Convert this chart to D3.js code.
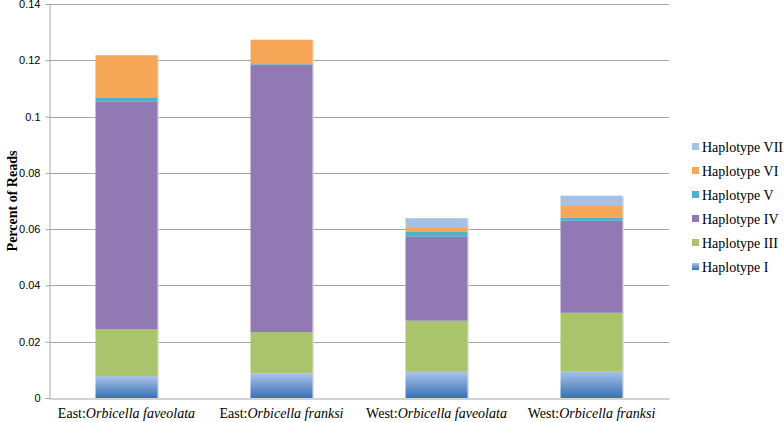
<!DOCTYPE html>
<html>
<head>
<meta charset="utf-8">
<script src="https://cdn.jsdelivr.net/npm/d3@7"></script>
<style>
  html, body { margin: 0; padding: 0; background: #fff; }
  svg { display: block; }
</style>
</head>
<body>
<svg id="chart" width="784" height="422"></svg>
<script>
// ---- data ----
const categoryRegions = ["East:", "East:", "West:", "West:"];
const categorySpecies = ["Orbicella faveolata", "Orbicella franksi", "Orbicella faveolata", "Orbicella franksi"];
const seriesNames = ["Haplotype I", "Haplotype III", "Haplotype IV", "Haplotype V", "Haplotype VI", "Haplotype VII"];
const hapI   = [0.0078, 0.0088, 0.0093, 0.0096];
const hapIII = [0.0167, 0.0146, 0.0182, 0.0207];
const hapIV  = [0.0808, 0.0949, 0.0298, 0.0327];
const hapV   = [0.0015, 0.0003, 0.0017, 0.0010];
const hapVI  = [0.0150, 0.0087, 0.0017, 0.0042];
const hapVII = [0.0000, 0.0000, 0.0032, 0.0037];
const yTicks = [0, 0.02, 0.04, 0.06, 0.08, 0.1, 0.12, 0.14];
const yTickLabels = ["0", "0.02", "0.04", "0.06", "0.08", "0.1", "0.12", "0.14"];
const yTitle = "Percent of Reads";

const seriesValues = [hapI, hapIII, hapIV, hapV, hapVI, hapVII];
const colors = ["url(#gradI)", "#aac46c", "#917ab4", "#4db1c8", "#f6a657", "#a6c1e6"];
const legendColors = ["url(#gradI)", "#aac46c", "#917ab4", "#4db1c8", "#f6a657", "#a6c1e6"];
const serif = "'Liberation Serif', 'Times New Roman', serif";
const sans = "'Liberation Sans', Arial, sans-serif";

const svg = d3.select("#chart");
const defs = svg.append("defs");
const g1 = defs.append("linearGradient").attr("id", "gradI")
  .attr("x1", 0).attr("y1", 0).attr("x2", 0).attr("y2", 1);
g1.append("stop").attr("offset", "0%").attr("stop-color", "#aac4ea");
g1.append("stop").attr("offset", "100%").attr("stop-color", "#3a70b4");

const margin = { left: 49, right: 115, top: 4, bottom: 24 };
const W = 784, H = 422;
const x0 = margin.left, x1 = W - margin.right; // 669
const yBottom = H - margin.bottom; // 398

const x = d3.scaleBand().domain(d3.range(categorySpecies.length))
  .range([x0, x1]).paddingInner(0.6).paddingOuter(0.3);
const y = d3.scaleLinear().domain([0, 0.14]).range([yBottom, margin.top]);

// gridlines
svg.append("g").selectAll("line").data(yTicks.slice(1)).join("line")
  .attr("x1", x0).attr("x2", x1)
  .attr("y1", d => Math.round(y(d)) + 0.5).attr("y2", d => Math.round(y(d)) + 0.5)
  .attr("stroke", "#a6a6a6").attr("stroke-width", 1);

// stacked data
const rows = categorySpecies.map((c, i) => {
  const r = { idx: i };
  seriesNames.forEach((s, k) => r[s] = seriesValues[k][i]);
  return r;
});
const stack = d3.stack().keys(seriesNames)(rows);
const totals = rows.map((r, i) => d3.sum(seriesValues, s => s[i]));

// faint bar shadow
svg.append("g").selectAll("rect").data(totals).join("rect")
  .attr("x", (d, i) => x(i) + 1.5)
  .attr("width", x.bandwidth())
  .attr("y", d => y(d) + 1)
  .attr("height", d => y(0) - y(d) - 1)
  .attr("fill", "#d8d8d8").attr("opacity", 0.8);

const gBars = svg.append("g");
stack.forEach((layer, k) => {
  gBars.selectAll(null).data(layer).join("rect")
    .attr("x", (d, i) => x(i))
    .attr("width", x.bandwidth())
    .attr("y", d => y(d[1]))
    .attr("height", d => Math.max(0, y(d[0]) - y(d[1])))
    .attr("fill", colors[k]);
});

// axes
const yAxis = d3.axisLeft(y).tickValues(yTicks)
  .tickFormat((d, i) => yTickLabels[i]).tickSize(4).tickPadding(5);
const gy = svg.append("g").attr("transform", `translate(${x0 + 0.5},0)`).call(yAxis);
gy.select(".domain").attr("stroke", "#a6a6a6");
gy.selectAll(".tick line").attr("stroke", "#a6a6a6");
gy.selectAll(".tick text").attr("font-family", sans)
  .attr("font-size", 11).attr("fill", "#000");

const xAxis = d3.axisBottom(x).tickSize(0).tickFormat(() => "");
const gx = svg.append("g").attr("transform", `translate(0,${yBottom + 0.5})`).call(xAxis);
gx.select(".domain").attr("stroke", "#a6a6a6");

// category labels
const labels = svg.append("g").selectAll("text").data(d3.range(categorySpecies.length)).join("text")
  .attr("x", i => x(i) + x.bandwidth() / 2)
  .attr("y", 418)
  .attr("text-anchor", "middle")
  .attr("font-family", serif)
  .attr("font-size", 14).attr("fill", "#000");
labels.append("tspan").text(i => categoryRegions[i]);
labels.append("tspan").attr("font-style", "italic").text(i => categorySpecies[i]);

// y title
svg.append("text")
  .attr("transform", `translate(12,${(y(0) + y(0.14)) / 2}) rotate(-90)`)
  .attr("text-anchor", "middle")
  .attr("dominant-baseline", "central")
  .attr("font-family", serif)
  .attr("font-weight", "bold").attr("font-size", 14).text(yTitle);

// legend (reverse order)
const legendOrder = d3.range(seriesNames.length).reverse();
const leg = svg.append("g");
const legItems = leg.selectAll("g").data(legendOrder).join("g")
  .attr("transform", (k, j) => `translate(692,${147 + j * 24})`);
legItems.append("rect").attr("x", 0).attr("y", -4).attr("width", 7).attr("height", 7)
  .attr("fill", k => legendColors[k]);
legItems.append("text").attr("x", 10).attr("y", 0)
  .attr("dominant-baseline", "central")
  .attr("font-family", serif)
  .attr("font-size", 14).attr("fill", "#000")
  .text(k => seriesNames[k]);
</script>
</body>
</html>
